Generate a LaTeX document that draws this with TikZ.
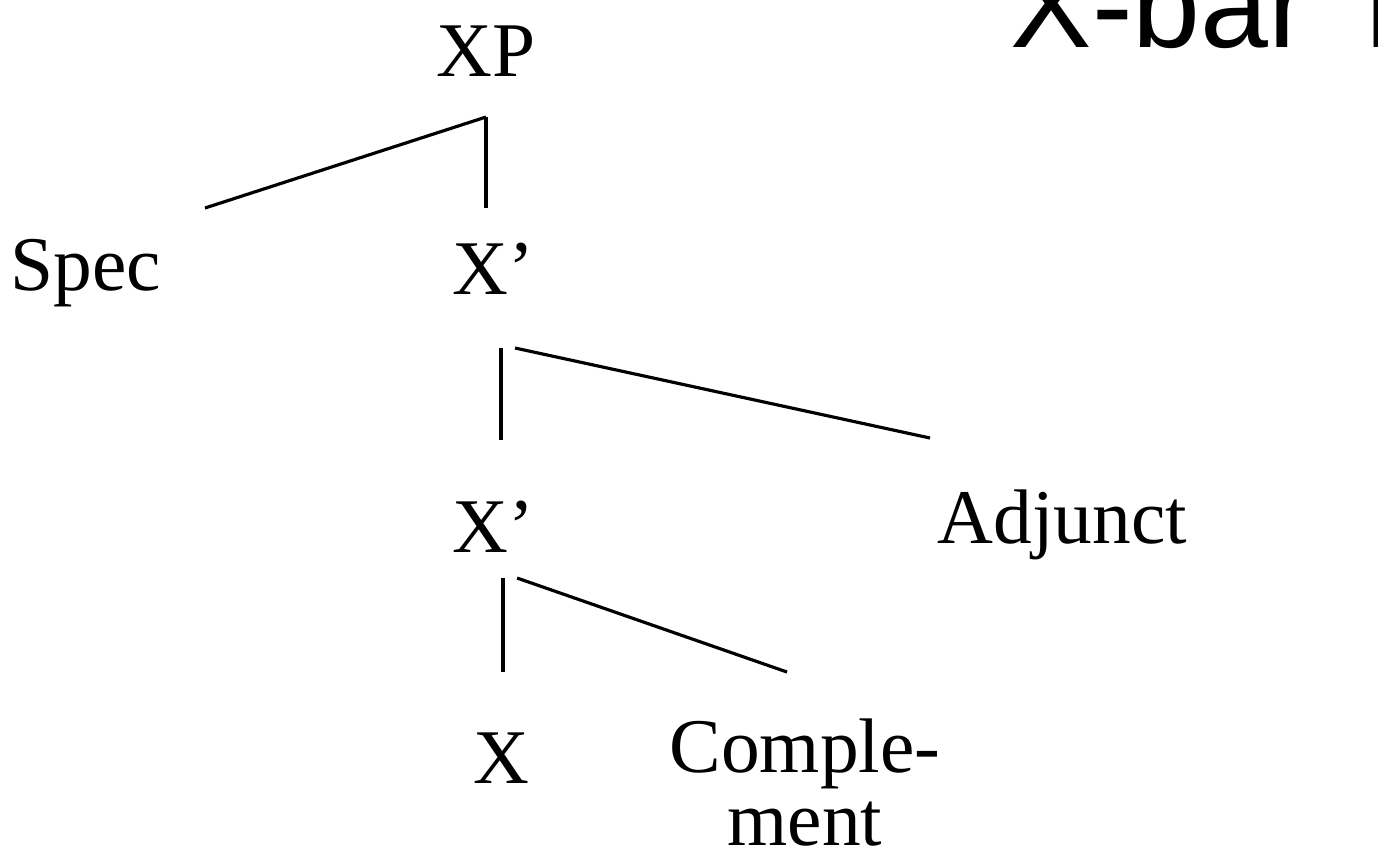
\documentclass[tikz,border=0pt]{standalone}
\usepackage{fontspec}
\setmainfont{Liberation Serif}
\newfontfamily\titlefont{Liberation Sans}
\usetikzlibrary{positioning}

\begin{document}
\begin{tikzpicture}[
    x=0.01cm, y=-0.01cm,
    label/.style={inner sep=0pt, anchor=base, font=\fontsize{22}{20.5}\selectfont},
    heading/.style={inner sep=0pt, anchor=base west, font=\titlefont\fontsize{34.7}{40}\selectfont},
    branch/.style={line width=0.9pt}
]
    \useasboundingbox (0,0) rectangle (1378,859);
    \clip (0,0) rectangle (1378,859);

    % Title (runs off the page)
    \node (title) [heading] at (1010,47) {X-bar T};

    % Phrase levels
    \node (xp) [label] at (486,76) {XP};
    \node (spec) [label, anchor=base west] at (10,290) {Spec};
    \node (xbar) [label, anchor=base west] at (452,294) {X’};
    \node (xbarlow) [label, anchor=base west] at (452,552) {X’};
    \node (adjunct) [label, anchor=base west] at (937,543) {Adjunct};
    \node (head) [label] at (501,783) {X};
    \node (comp) [label, align=center] at (805,845) {Comple-\\ment};

    % Branch ends
    \coordinate (xp-b) at (486,117);
    \coordinate (spec-t) at (205,208);
    \coordinate (xbar-t) at (486,208);
    \coordinate (xbar-b) at (501,348);
    \coordinate (xbarlow-t) at (501,440);
    \coordinate (adjunct-t) at (930,438);
    \coordinate (xbarlow-b) at (503,578);
    \coordinate (head-t) at (503,672);
    \coordinate (comp-t) at (787,672);

    % Branches
    \draw [branch] (xp-b) -- (spec-t);
    \draw [branch] (xp-b) -- (xbar-t);
    \draw [branch] (xbar-b) -- (xbarlow-t);
    \draw [branch] ([xshift=4]xbar-b) -- (adjunct-t);
    \draw [branch] (xbarlow-b) -- (head-t);
    \draw [branch] ([xshift=4]xbarlow-b) -- (comp-t);
\end{tikzpicture}
\end{document}
